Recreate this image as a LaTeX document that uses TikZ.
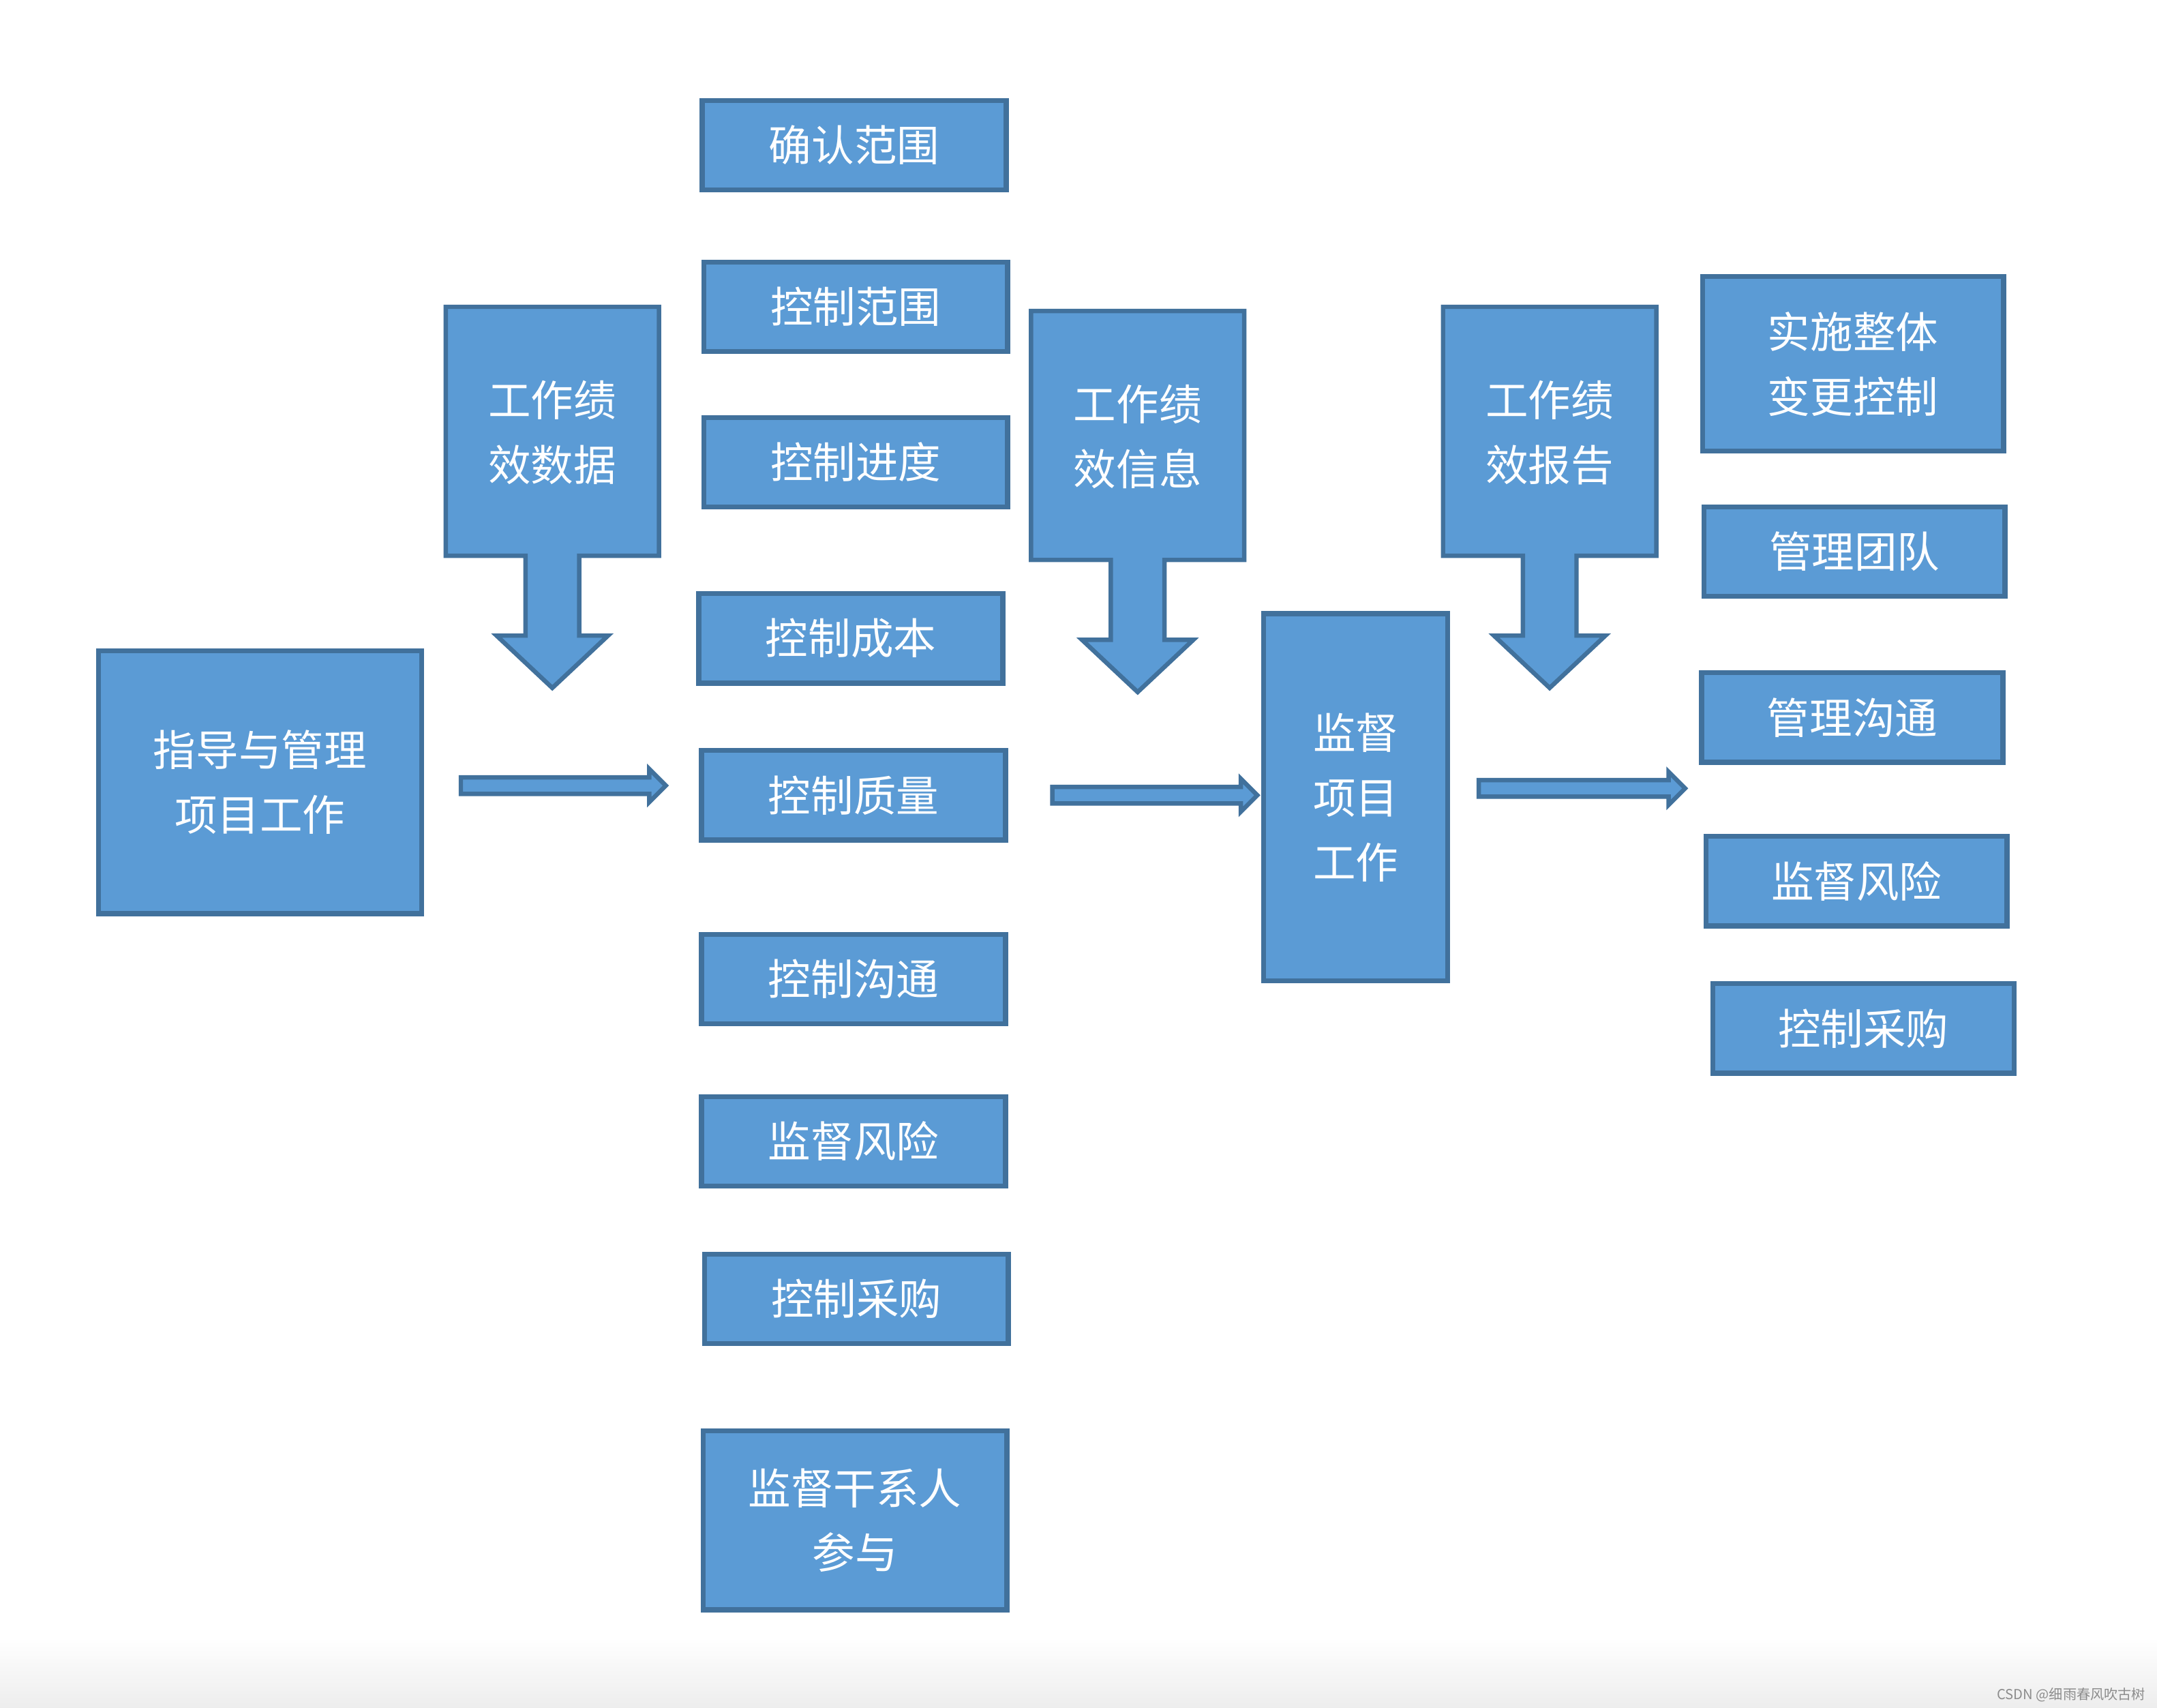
\documentclass[tikz,border=0pt]{standalone}
\usepackage{fontspec}
\newfontfamily\cjk{Noto Sans CJK SC}
\usetikzlibrary{calc}
\definecolor{fil}{HTML}{5B9BD5}
\definecolor{bdr}{HTML}{41719C}
\tikzset{
  box/.style={draw=bdr, fill=fil, line width=1.8pt, text=white, inner sep=0pt,
    font=\cjk\fontsize{15.5}{23.5}\selectfont, align=center},
  sbox/.style={box, minimum width=110.5pt, minimum height=32.5pt},
  lbl/.style={text=white, inner sep=0pt, font=\cjk\fontsize{15.5}{23.5}\selectfont, align=center},
  blk/.style={draw=bdr, fill=fil, line width=1.6pt, line join=miter},
}
% down block arrow with label: #1 centre x, #2 top y, #3 text, #4 node name
\newcommand\dnarrow[4]{%
  \draw[blk] ({#1-77.5},{#2}) -- ({#1+77.5},{#2}) -- ({#1+77.5},{#2+181}) -- ({#1+19.5},{#2+181})
    -- ({#1+19.5},{#2+239}) -- ({#1+40.5},{#2+239}) -- ({#1},{#2+277}) -- ({#1-40.5},{#2+239})
    -- ({#1-19.5},{#2+239}) -- ({#1-19.5},{#2+181}) -- ({#1-77.5},{#2+181}) -- cycle;
  \node[lbl] (#4) at ({#1},{#2+91.5}) {#3};}
% right block arrow between two named coordinates
\newcommand\rtarrow[2]{%
  \draw[blk] ($(#1)+(0,-6)$) -- ($(#2)+(-12,-6)$) -- ($(#2)+(-12,-12)$) -- (#2)
    -- ($(#2)+(-12,12)$) -- ($(#2)+(-12,6)$) -- ($(#1)+(0,6)$) -- cycle;}
\begin{document}
\begin{tikzpicture}[x=0.5pt,y=-0.5pt]
\useasboundingbox (0,0) rectangle (1568,1241);
\fill[white] (0,0) rectangle (1568,1241);
\shade[top color=white, bottom color=black!7] (0,1190) rectangle (1568,1241);

% middle column
\node[sbox] (m1) at (621,105.5) {确认范围};
\node[sbox] (m2) at (622,223) {控制范围};
\node[sbox] (m3) at (622,336) {控制进度};
\node[sbox] (m4) at (618.5,464) {控制成本};
\node[sbox] (m5) at (620.5,578) {控制质量};
\node[sbox] (m6) at (620.5,711.5) {控制沟通};
\node[sbox] (m7) at (620.5,829.5) {监督风险};
\node[sbox] (m8) at (622.5,944) {控制采购};
\node[box, minimum width=110.5pt, minimum height=65pt] (m9) at (621.5,1105) {监督干系人\\参与};

% left box
\node[box, minimum width=117.5pt, minimum height=95.5pt] (dm) at (189,568.5) {指导与管理\\项目工作};

% centre box
\node[box, minimum width=67pt, minimum height=133.5pt] (mw) at (985.5,579.5) {监督\\项目\\工作};

% right column
\node[box, minimum width=109.5pt, minimum height=63.5pt] (r1) at (1347,264.5) {实施整体\\变更控制};
\node[box, minimum width=109.5pt, minimum height=32.5pt] (r2) at (1348,401) {管理团队};
\node[box, minimum width=109.5pt, minimum height=32.5pt] (r3) at (1346.5,521.5) {管理沟通};
\node[box, minimum width=109.5pt, minimum height=32.5pt] (r4) at (1349.5,640.5) {监督风险};
\node[box, minimum width=109.5pt, minimum height=32.5pt] (r5) at (1354.5,747.5) {控制采购};

% down arrows
\dnarrow{401.5}{223}{工作绩\\效数据}{wpd}
\dnarrow{827}{226}{工作绩\\效信息}{wpi}
\dnarrow{1126.5}{223}{工作绩\\效报告}{wpr}

% right arrows
\coordinate (a1s) at (335,571);  \coordinate (a1e) at (484,571);
\coordinate (a2s) at (765,578);  \coordinate (a2e) at (914,578);
\coordinate (a3s) at (1075,573); \coordinate (a3e) at (1225,573);
\rtarrow{a1s}{a1e}
\rtarrow{a2s}{a2e}
\rtarrow{a3s}{a3e}

% watermark
\node[anchor=east, inner sep=0pt, text=black!45, font=\cjk\fontsize{5}{6}\selectfont] (wm) at (1560,1232) {CSDN @细雨春风吹古树};
\end{tikzpicture}
\end{document}
